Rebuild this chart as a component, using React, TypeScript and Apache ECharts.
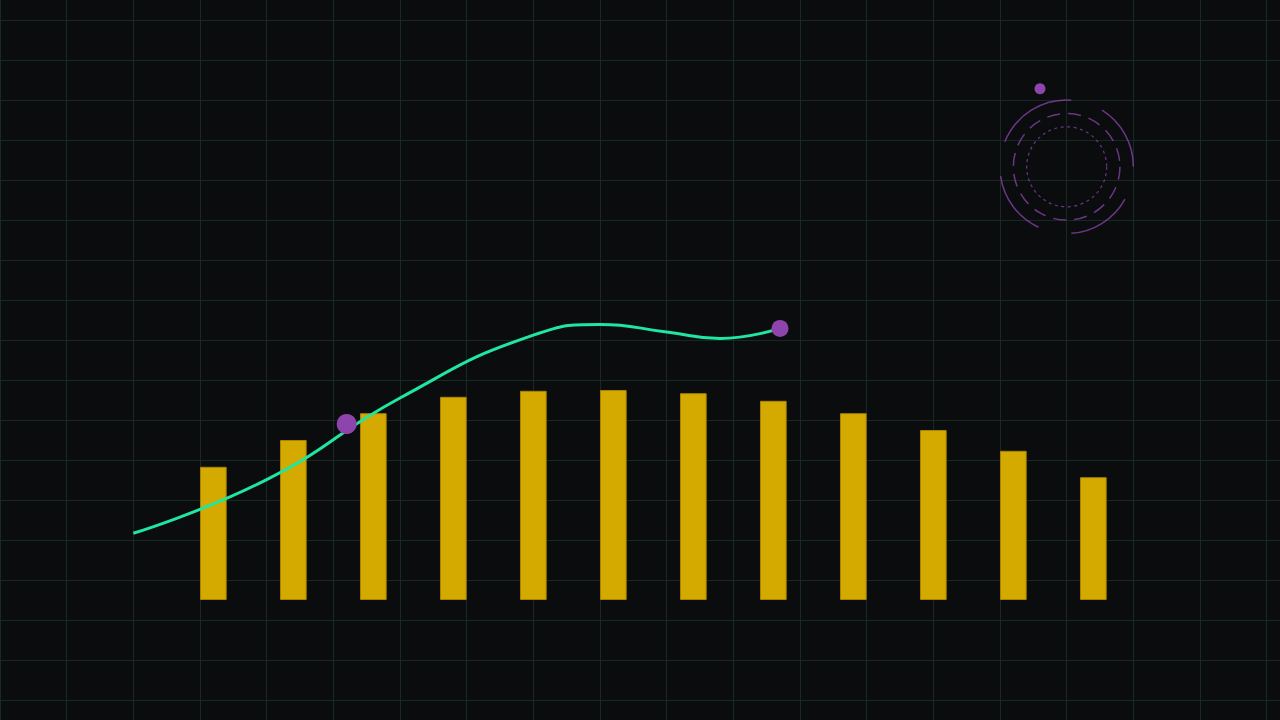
import React, { useEffect, useRef } from "react";
import * as echarts from "echarts";

// bars: 12 categories
const barCategories = ["1", "2", "3", "4", "5", "6", "7", "8", "9", "10", "11", "12"];
const barValues = [33.3, 40, 46.7, 50.8, 52.3, 52.5, 51.7, 49.8, 46.7, 42.5, 37.3, 30.7];

// curve, in background grid units (columns, rows)
const lineX = [2, 4, 6, 8, 9, 10, 10.8, 11.7];
const lineY = [4.17, 5.51, 7.55, 9.12, 9.39, 9.2, 9.04, 9.29];

// purple dots
const dotX = [5.2, 11.7, 15.6];
const dotY = [6.9, 9.29, 15.28];

// ring decoration centre
const ringCenter = [16, 13.33];

const BG = "#0a0c0e";
const GRID_LINE = "#172925";
const BAR = "#d4a900";
const LINE = "#20e6a0";
const PURPLE = "#8e44ad";
const dotSizes = [20, 17, 11];

const hiddenParts = {
  axisLine: { show: false },
  axisTick: { show: false },
  axisLabel: { show: false },
};

const App = () => {
  const chartRef = useRef(null);

  useEffect(() => {
    let myChart: echarts.ECharts = null;
    if (chartRef.current !== null) {
      myChart = echarts.init(chartRef.current, null, { renderer: "svg" });
    }

    const option = {
      animation: false,
      backgroundColor: BG,
      grid: [
        // vertical lines, full height
        { left: 0, right: 0, top: 0, bottom: 0 },
        // bars
        { left: 173.333, right: 146.667, top: 200, bottom: 120 },
        // horizontal lines, curve and dots
        { left: 0, right: 0, top: 0, bottom: 20 },
      ],
      xAxis: [
        {
          type: "value",
          gridIndex: 0,
          min: 0,
          max: 19.2,
          interval: 1,
          ...hiddenParts,
          splitLine: {
            show: true,
            showMinLine: true,
            showMaxLine: false,
            lineStyle: { color: GRID_LINE, width: 1 },
          },
        },
        {
          type: "category",
          gridIndex: 1,
          data: barCategories,
          show: false,
        },
        {
          type: "value",
          gridIndex: 2,
          min: 0,
          max: 19.2,
          interval: 1,
          ...hiddenParts,
          splitLine: { show: false },
        },
      ],
      yAxis: [
        {
          type: "value",
          gridIndex: 0,
          min: 0,
          max: 18,
          show: false,
        },
        {
          type: "value",
          gridIndex: 1,
          min: 0,
          max: 100,
          show: false,
        },
        {
          type: "value",
          gridIndex: 2,
          min: 0,
          max: 17.5,
          interval: 1,
          ...hiddenParts,
          splitLine: {
            show: true,
            showMinLine: true,
            showMaxLine: false,
            lineStyle: { color: GRID_LINE, width: 1 },
          },
        },
      ],
      series: [
        {
          type: "bar",
          xAxisIndex: 1,
          yAxisIndex: 1,
          barWidth: "33.33%",
          data: barValues,
          itemStyle: { color: BAR, borderColor: "#a88500", borderWidth: 1 },
          z: 2,
        },
        {
          type: "line",
          xAxisIndex: 2,
          yAxisIndex: 2,
          smooth: 0.5,
          showSymbol: false,
          data: lineX.map((x, i) => [x, lineY[i]]),
          lineStyle: { color: LINE, width: 3 },
          z: 3,
        },
        {
          type: "scatter",
          xAxisIndex: 2,
          yAxisIndex: 2,
          data: dotX.map((x, i) => [x, dotY[i]]),
          symbolSize: (val, params) => dotSizes[params.dataIndex],
          itemStyle: { color: PURPLE, opacity: 1 },
          z: 4,
        },
      ],
    };

    if (myChart !== null) {
      myChart.setOption(option);

      // ring decoration
      const [cx, cy] = myChart.convertToPixel({ gridIndex: 2 }, ringCenter);
      const outerArcs = [
        [0, 58],
        [86, 158],
        [188, 245],
        [274, 331],
      ];
      const ringStroke = "rgba(142, 68, 173, 0.75)";
      const graphic = [
        ...outerArcs.map(([a, b]) => ({
          type: "arc",
          shape: {
            cx,
            cy,
            r: 66.7,
            startAngle: (-b * Math.PI) / 180,
            endAngle: (-a * Math.PI) / 180,
            clockwise: true,
          },
          style: { stroke: ringStroke, lineWidth: 1.5, fill: "none" },
          silent: true,
        })),
        {
          type: "circle",
          shape: { cx, cy, r: 53.3 },
          style: { stroke: ringStroke, lineWidth: 1.5, fill: "none", lineDash: [13, 8] },
          silent: true,
        },
        {
          type: "circle",
          shape: { cx, cy, r: 40 },
          style: { stroke: ringStroke, lineWidth: 1.2, fill: "none", lineDash: [3, 3.5] },
          silent: true,
        },
      ];
      myChart.setOption({ graphic });
    }

    return () => {
      if (myChart !== null) {
        myChart.dispose();
      }
    };
  }, []);

  return (
    <div
      ref={chartRef}
      style={{ position: "fixed", left: 0, top: 0, width: 1280, height: 720 }}
    ></div>
  );
};

export default App;
